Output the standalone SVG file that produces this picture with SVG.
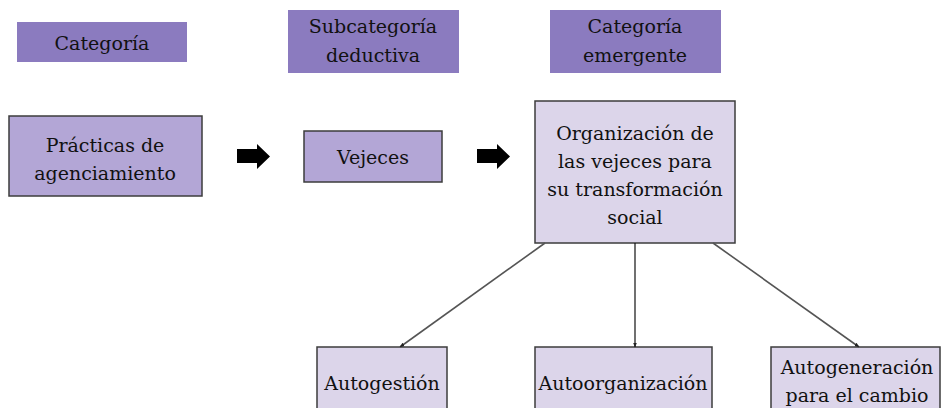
<svg xmlns="http://www.w3.org/2000/svg" width="942" height="408" viewBox="0 0 942 408">
<style>
text{font-family:'DejaVu Serif',serif;font-size:19px;fill:#111;text-anchor:middle}
.hdr{fill:#8b7bbf}
.mid{fill:#b3a6d6;stroke:#3c3c3c;stroke-width:1.5}
.lt{fill:#dcd5ea;stroke:#3c3c3c;stroke-width:1.5}
.con{stroke:#555;stroke-width:1.6;fill:none;marker-end:url(#ah)}
.blk{fill:#000}
</style>
<defs>
<marker id="ah" viewBox="0 0 10 10" refX="9" refY="5" markerWidth="5" markerHeight="5" orient="auto" markerUnits="userSpaceOnUse">
<path d="M0,1 L10,5 L0,9 z" fill="#222"/>
</marker>
</defs>
<rect width="942" height="408" fill="#fff"/>
<g id="h1"><rect class="hdr" x="17" y="22" width="170" height="40"/><text x="102" y="50">Categoría</text></g>
<g id="h2"><rect class="hdr" x="288" y="10" width="171" height="63"/><text x="373" y="33">Subcategoría</text><text x="373" y="62">deductiva</text></g>
<g id="h3"><rect class="hdr" x="550" y="10" width="171" height="63"/><text x="635" y="33">Categoría</text><text x="635" y="62">emergente</text></g>
<g id="n1"><rect class="mid" x="9" y="116" width="193" height="80"/><text x="105" y="152">Prácticas de</text><text x="105" y="180">agenciamiento</text></g>
<g id="n2"><rect class="mid" x="304" y="131" width="138" height="51"/><text x="373" y="164">Vejeces</text></g>
<g id="n3"><rect class="lt" x="535" y="101" width="200" height="142"/><text x="635" y="140">Organización de</text><text x="635" y="168">las vejeces para</text><text x="635" y="196">su transformación</text><text x="635" y="224">social</text></g>
<g id="n4"><rect class="lt" x="317" y="347" width="130" height="70"/><text x="382" y="390">Autogestión</text></g>
<g id="n5"><rect class="lt" x="535" y="347" width="177" height="70"/><text x="623" y="390">Autoorganización</text></g>
<g id="n6"><rect class="lt" x="771" y="347" width="169" height="70"/><text x="857" y="374">Autogeneración</text><text x="857" y="402">para el cambio</text></g>
<g id="connectors">
<path class="blk" d="M237,149 H257 V144 L270,156.5 L257,169 V163 H237 z"/>
<path class="blk" d="M477,149 H497 V144 L510,156.5 L497,169 V163 H477 z"/>
<line class="con" x1="545" y1="243" x2="400" y2="347"/>
<line class="con" x1="635" y1="243" x2="635" y2="347" style="stroke:#111;stroke-width:1.2"/>
<line class="con" x1="713" y1="243" x2="859" y2="347"/>
</g>
</svg>
